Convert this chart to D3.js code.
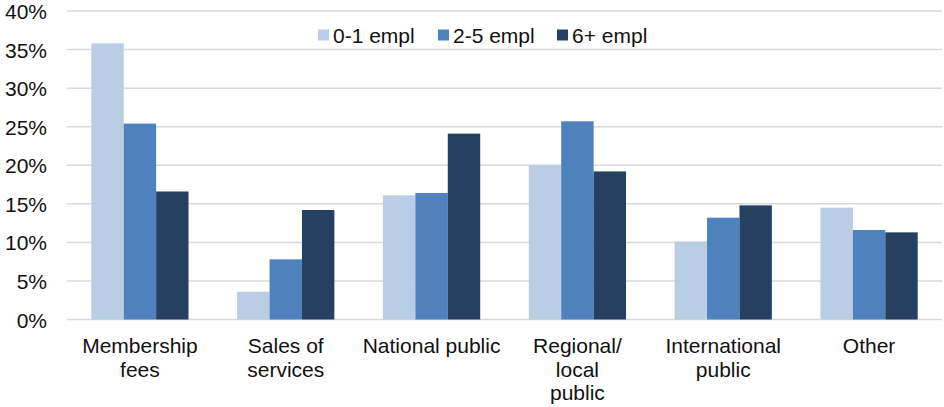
<!DOCTYPE html>
<html>
<head>
<meta charset="utf-8">
<script src="https://cdn.jsdelivr.net/npm/d3@7"></script>
<style>
  html, body { margin: 0; padding: 0; background: #fff; }
  svg { display: block; font-family: "Liberation Sans", Arial, sans-serif; }
</style>
</head>
<body>
<svg id="chart" width="944" height="407"></svg>
<script>
// Income sources by organisation size (share of income, %)
const categories = ["Membership\nfees", "Sales of\nservices", "National public", "Regional/\nlocal\npublic", "International\npublic", "Other"];
const seriesNames = ["0-1 empl", "2-5 empl", "6+ empl"];
const empl01 = [35.8, 3.6, 16.1, 20.0, 10.1, 14.5];
const empl25 = [25.4, 7.8, 16.4, 25.7, 13.2, 11.6];
const empl6p = [16.6, 14.2, 24.1, 19.2, 14.8, 11.3];
const yTicks = [0, 5, 10, 15, 20, 25, 30, 35, 40];
const colors = ["#B9CDE5", "#4F81BD", "#264061"];

const series = [empl01, empl25, empl6p];
const rows = categories.map((c, i) => ({ cat: c, values: series.map(s => s[i]) }));

const svg = d3.select("#chart");
const margin = { left: 67, right: 2, top: 11, bottom: 87 };
const W = 944, H = 407;

// three bars per group with a gap of 1.5 bar widths between groups
const x = d3.scaleBand().domain(categories).range([margin.left, W - margin.right]).paddingInner(1 / 3).paddingOuter(1 / 6);
const x1 = d3.scaleBand().domain(d3.range(seriesNames.length)).range([0, x.bandwidth()]);
const y = d3.scaleLinear().domain([0, 40]).range([H - margin.bottom - 0.5, margin.top]);

// gridlines
svg.append("g")
  .selectAll("line")
  .data(yTicks)
  .join("line")
  .attr("x1", margin.left)
  .attr("x2", W - margin.right)
  .attr("y1", d => y(d))
  .attr("y2", d => y(d))
  .attr("stroke", "#D9D9D9")
  .attr("stroke-width", 1.5);

// y axis labels
const yAxis = d3.axisLeft(y).tickValues(yTicks).tickFormat(d => d + "%").tickSize(0).tickPadding(0);
const gy = svg.append("g").attr("transform", `translate(${margin.left - 20},0)`).call(yAxis);
gy.select(".domain").remove();
gy.selectAll("text")
  .attr("font-size", 21)
  .attr("font-family", "Liberation Sans, Arial, sans-serif")
  .attr("fill", "#111")
  .attr("dy", "0.36em");

// bars
const groups = svg.append("g")
  .selectAll("g")
  .data(rows)
  .join("g")
  .attr("transform", d => `translate(${x(d.cat)},0)`);

groups.selectAll("rect")
  .data(d => d.values.map((v, k) => ({ v, k })))
  .join("rect")
  .attr("x", d => x1(d.k))
  .attr("width", x1.bandwidth())
  .attr("y", d => y(d.v))
  .attr("height", d => y(0) - y(d.v))
  .attr("fill", d => colors[d.k]);

// category labels
const labels = svg.append("g")
  .selectAll("text")
  .data(categories)
  .join("text")
  .attr("x", d => x(d) + x.bandwidth() / 2)
  .attr("y", 353)
  .attr("text-anchor", "middle")
  .attr("font-size", 21)
  .attr("fill", "#111");
labels.selectAll("tspan")
  .data(d => d.split("\n"))
  .join("tspan")
  .attr("x", function () { return d3.select(this.parentNode).attr("x"); })
  .attr("dy", (d, i) => i === 0 ? 0 : 23.5)
  .text(d => d);

// legend
const legendX = [318, 438, 557];
const legend = svg.append("g")
  .selectAll("g")
  .data(seriesNames)
  .join("g")
  .attr("transform", (d, i) => `translate(${legendX[i]},35)`);
legend.append("rect")
  .attr("x", 0).attr("y", -5.5)
  .attr("width", 11).attr("height", 11)
  .attr("fill", (d, i) => colors[i]);
legend.append("text")
  .attr("x", 15)
  .attr("dy", "0.36em")
  .attr("font-size", 21)
  .attr("fill", "#111")
  .text(d => d);
</script>
</body>
</html>
